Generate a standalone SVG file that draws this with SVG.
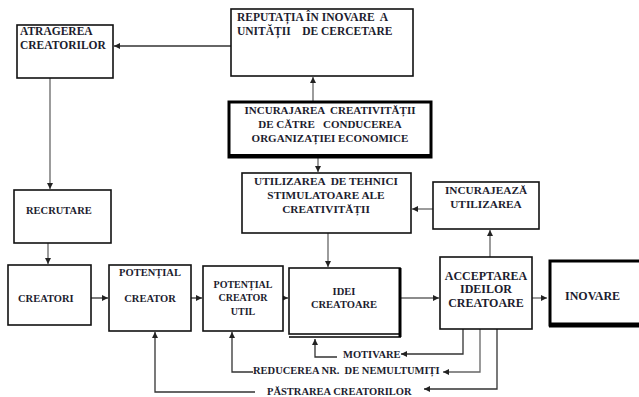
<svg xmlns="http://www.w3.org/2000/svg" width="639" height="397" viewBox="0 0 639 397">
<defs>
<marker id="ah" viewBox="0 0 6 6" refX="6" refY="3" markerWidth="6" markerHeight="6" orient="auto" markerUnits="userSpaceOnUse">
<path d="M0,0 L6,3 L0,6 z" fill="#222"/>
</marker>
</defs>
<style>
.b{fill:#fff;stroke:#111;stroke-width:1.6}
.t{font-family:"Liberation Serif",serif;font-weight:bold;font-size:10.5px;fill:#1c1c2e}
.m{text-anchor:middle}
.c{fill:none;stroke:#666;stroke-width:1.3}
.k{fill:none;stroke:#333;stroke-width:1.3}
</style>
<rect width="639" height="397" fill="#fff"/>
<g id="connectors">
<line class="k" x1="231" y1="46" x2="114" y2="46" marker-end="url(#ah)"/>
<line class="c" x1="313" y1="102" x2="313" y2="77" marker-end="url(#ah)"/>
<line class="c" x1="50" y1="78" x2="50" y2="189" marker-end="url(#ah)"/>
<line class="c" x1="48" y1="243" x2="48" y2="264" marker-end="url(#ah)"/>
<line class="c" x1="318" y1="158" x2="318" y2="172" marker-end="url(#ah)"/>
<line class="c" x1="433" y1="209" x2="412" y2="209" marker-end="url(#ah)"/>
<line class="c" x1="490" y1="257" x2="490" y2="230" marker-end="url(#ah)"/>
<line class="c" x1="328" y1="233" x2="328" y2="267" marker-end="url(#ah)"/>
<line class="k" x1="91" y1="298" x2="108" y2="298" marker-end="url(#ah)"/>
<line class="k" x1="191" y1="298" x2="202" y2="298" marker-end="url(#ah)"/>
<line class="k" x1="283" y1="298" x2="288" y2="298" marker-end="url(#ah)"/>
<line class="c" x1="400" y1="298" x2="439" y2="298" marker-end="url(#ah)"/>
<line class="c" x1="532" y1="298" x2="547" y2="298" marker-end="url(#ah)"/>
<polyline class="k" points="463,329 463,354 401,354" marker-end="url(#ah)"/>
<polyline class="k" points="337,357 315,357 315,339" marker-end="url(#ah)"/>
<polyline class="c" points="480,329 480,372 443,372" marker-end="url(#ah)"/>
<polyline class="k" points="253,372 232,372 232,332" marker-end="url(#ah)"/>
<polyline class="k" points="497,329 497,389 424,389" marker-end="url(#ah)"/>
<polyline class="k" points="255,392 155,392 155,332" marker-end="url(#ah)"/>
</g>
<g id="atragerea">
<rect class="b" x="17" y="25" width="96" height="53"/>
<text class="t" x="20" y="35" style="font-size:11.5px">ATRAGEREA</text>
<text class="t" x="20" y="49" style="font-size:11.5px">CREATORILOR</text>
</g>
<g id="reputatia">
<rect class="b" x="231" y="9" width="182" height="67"/>
<text class="t" x="237" y="21" style="font-size:11.5px" xml:space="preserve">REPUTAȚIA ÎN INOVARE  A</text>
<text class="t" x="237" y="35" style="font-size:11.5px" xml:space="preserve">UNITĂȚII    DE CERCETARE</text>
</g>
<g id="incurajarea">
<rect x="229" y="102" width="202" height="55" fill="#fff" stroke="#000" stroke-width="3"/>
<line x1="229" y1="156" x2="432" y2="156" stroke="#000" stroke-width="4"/>
<text class="t m" x="330" y="114" style="font-size:11px" xml:space="preserve">INCURAJAREA  CREATIVITĂȚII</text>
<text class="t m" x="330" y="128" style="font-size:11px" xml:space="preserve">DE CĂTRE   CONDUCEREA</text>
<text class="t m" x="330" y="142" style="font-size:11px">ORGANIZAȚIEI ECONOMICE</text>
</g>
<g id="utilizarea">
<rect class="b" x="242" y="173" width="169" height="60"/>
<text class="t m" x="326" y="185" style="font-size:11.3px" xml:space="preserve">UTILIZAREA  DE TEHNICI</text>
<text class="t m" x="326" y="199" style="font-size:11.3px">STIMULATOARE ALE</text>
<text class="t m" x="326" y="213" style="font-size:11.3px">CREATIVITĂȚII</text>
</g>
<g id="incurajeaza">
<rect class="b" x="433" y="182" width="106" height="47"/>
<text class="t m" x="486" y="194" style="font-size:11.3px">INCURAJEAZĂ</text>
<text class="t m" x="486" y="208" style="font-size:11.3px">UTILIZAREA</text>
</g>
<g id="recrutare">
<rect class="b" x="14" y="190" width="97" height="53"/>
<text class="t" x="26" y="214">RECRUTARE</text>
</g>
<g id="creatori">
<rect class="b" x="8" y="265" width="83" height="60"/>
<text class="t" x="18" y="302">CREATORI</text>
</g>
<g id="potential-creator">
<rect class="b" x="109" y="265" width="82" height="66"/>
<text class="t m" x="150" y="276">POTENȚIAL</text>
<text class="t m" x="150" y="302">CREATOR</text>
</g>
<g id="potential-creator-util">
<rect class="b" x="203" y="266" width="80" height="65"/>
<text class="t m" x="243" y="288" style="font-size:10px">POTENȚIAL</text>
<text class="t m" x="243" y="301" style="font-size:10px">CREATOR</text>
<text class="t m" x="243" y="315" style="font-size:10px">UTIL</text>
</g>
<g id="idei-creatoare">
<rect class="b" x="289" y="268" width="111" height="66"/>
<line x1="400" y1="268" x2="400" y2="337" stroke="#000" stroke-width="3"/>
<line x1="289" y1="337" x2="401" y2="337" stroke="#000" stroke-width="1.6"/>
<text class="t m" x="344" y="295">IDEI</text>
<text class="t m" x="344" y="308">CREATOARE</text>
</g>
<g id="acceptarea">
<rect class="b" x="440" y="257" width="92" height="72"/>
<text class="t m" x="486" y="280" style="font-size:12px">ACCEPTAREA</text>
<text class="t m" x="486" y="293" style="font-size:12px">IDEILOR</text>
<text class="t m" x="486" y="307" style="font-size:12px">CREATOARE</text>
</g>
<g id="inovare">
<rect x="550" y="261" width="92" height="64" fill="#fff" stroke="#000" stroke-width="3"/>
<line x1="549" y1="325" x2="639" y2="325" stroke="#000" stroke-width="5"/>
<text class="t" x="565" y="300" style="font-size:12px">INOVARE</text>
</g>
<g id="labels">
<text class="t" x="343" y="358">MOTIVARE</text>
<text class="t" x="253" y="374" xml:space="preserve">REDUCEREA NR.  DE NEMULTUMIȚI</text>
<text class="t" x="267" y="395">PĂSTRAREA CREATORILOR</text>
</g>
</svg>
